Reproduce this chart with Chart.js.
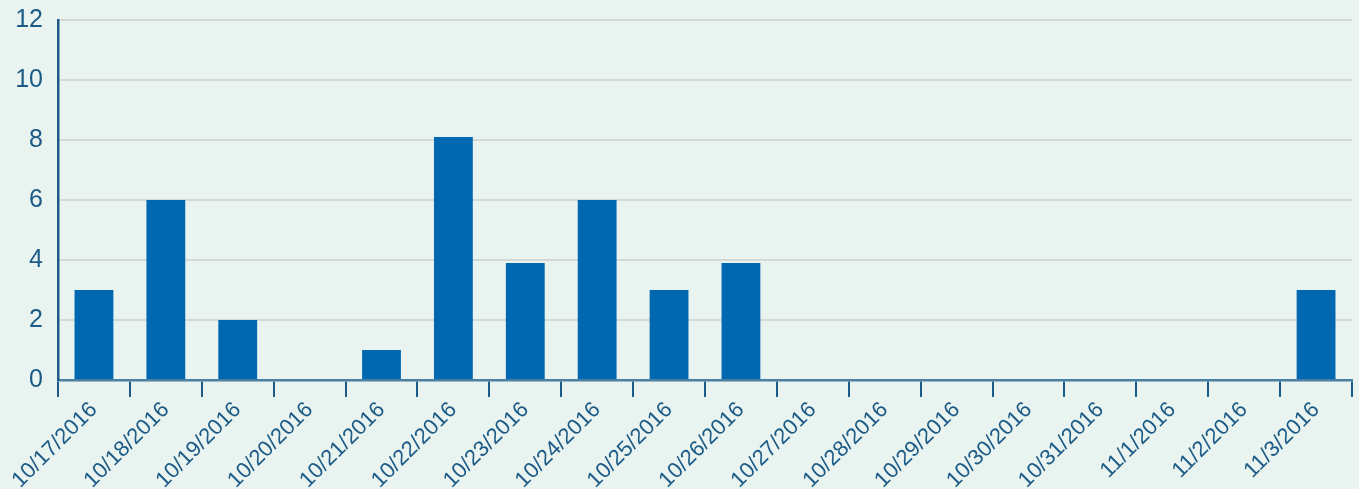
<!DOCTYPE html>
<html>
<head>
<meta charset="utf-8">
<script src="https://cdn.jsdelivr.net/npm/chart.js@4/dist/chart.umd.min.js"></script>
<style>
html,body{margin:0;padding:0;background:#e9f3ef;}
#wrap{width:1359px;height:489px;}
</style>
</head>
<body>
<div id="wrap"><canvas id="c" width="1359" height="489"></canvas></div>
<script>
const categories = ["10/17/2016","10/18/2016","10/19/2016","10/20/2016","10/21/2016","10/22/2016","10/23/2016","10/24/2016","10/25/2016","10/26/2016","10/27/2016","10/28/2016","10/29/2016","10/30/2016","10/31/2016","11/1/2016","11/2/2016","11/3/2016"];
const values = [3, 6, 2, 0, 1, 8.1, 3.9, 6, 3, 3.9, 0, 0, 0, 0, 0, 0, 0, 3];
const yTicks = [0, 2, 4, 6, 8, 10, 12];

const FONT = "'Liberation Sans Narrow', 'Liberation Sans', Arial, sans-serif";
const TXT = '#1c5b87';

new Chart(document.getElementById('c'), {
  type: 'bar',
  data: {
    labels: categories,
    datasets: [{
      data: values,
      backgroundColor: '#0067b1',
      borderWidth: 0,
      categoryPercentage: 1,
      barPercentage: 0.54
    }]
  },
  options: {
    responsive: false,
    animation: false,
    devicePixelRatio: 1,
    layout: { padding: { top: 20, right: 7, left: 0, bottom: 0 } },
    plugins: { legend: { display: false }, tooltip: { enabled: false } },
    scales: {
      x: {
        grid: { drawOnChartArea: false, drawTicks: true, tickLength: 17, color: '#1c5b87', lineWidth: 2, offset: true },
        border: { display: true, color: '#4b7fa3', width: 2.5 },
        ticks: {
          color: TXT, font: { family: FONT, size: 22 },
          minRotation: 45, maxRotation: 45, autoSkip: false, padding: 0
        },
        afterFit: s => { s.height = 109; s.paddingLeft = 0; s.paddingRight = 0; }
      },
      y: {
        min: 0, max: 12,
        afterBuildTicks: s => { s.ticks = yTicks.map(v => ({ value: v })); },
        grid: { drawTicks: false, color: '#d5d9d6', lineWidth: 2 },
        border: { display: true, color: '#1c5b87', width: 2.5 },
        ticks: { color: TXT, font: { family: FONT, size: 25 }, padding: 15 },
        afterFit: s => { s.width = 58; s.paddingTop = 0; s.paddingBottom = 0; }
      }
    }
  }
});
</script>
</body>
</html>
